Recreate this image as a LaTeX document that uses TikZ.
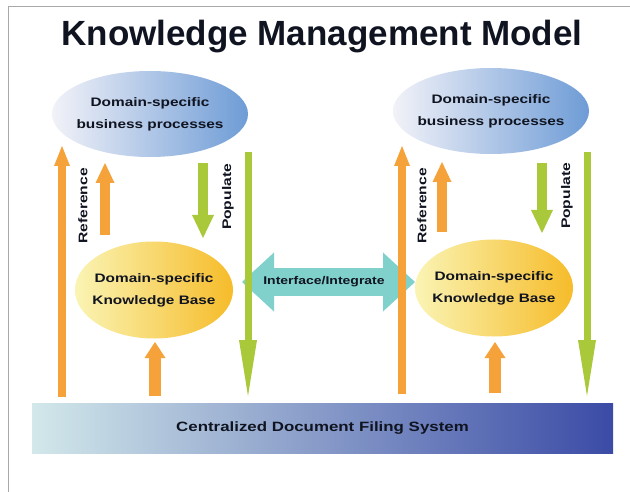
\documentclass[tikz,border=0pt]{standalone}
\usepackage{fontspec}
\setmainfont{Liberation Sans}
\newfontfamily\widefont[FakeStretch=1.25]{Liberation Sans}
\usetikzlibrary{arrows.meta,shapes.geometric}
\definecolor{arrOrange}{HTML}{F5A23A}
\definecolor{arrGreen}{HTML}{A9C83A}
\definecolor{ifaceTeal}{HTML}{80D0CC}
\definecolor{bpLeft}{HTML}{F2F2F8}
\definecolor{bpRight}{HTML}{6E9CD6}
\definecolor{kbLeft}{HTML}{FAF4B4}
\definecolor{kbRight}{HTML}{F6BC2A}
\definecolor{barLeft}{HTML}{D2E8EA}
\definecolor{barMid}{HTML}{A0BEE0}
\definecolor{barRight}{HTML}{3B4BA6}
\definecolor{frameGray}{HTML}{A8A8A8}
\definecolor{txt}{HTML}{101420}
\tikzset{
  lbl/.style={font=\widefont\bfseries\fontsize{12.3}{22}\selectfont, text=txt, align=center, inner sep=0pt},
  bproc/.style={ellipse, minimum width=196pt, minimum height=86pt, inner sep=0pt,
    left color=bpLeft, right color=bpRight},
  kbase/.style={ellipse, minimum width=158pt, minimum height=97pt, inner sep=0pt,
    left color=kbLeft, right color=kbRight},
  vlabel/.style={font=\widefont\bfseries\fontsize{12.5}{14}\selectfont, text=txt, rotate=90},
  tallor/.style={draw=arrOrange, line width=8pt,
    -{Triangle[width=16pt,length=20pt,line width=0pt,fill=arrOrange]}},
  smallor/.style={draw=arrOrange, line width=10pt,
    -{Triangle[width=19pt,length=20pt,line width=0pt,fill=arrOrange]}},
  botor/.style={draw=arrOrange, line width=12pt,
    -{Triangle[width=21pt,length=16pt,line width=0pt,fill=arrOrange]}},
  smallgr/.style={draw=arrGreen, line width=10pt,
    -{Triangle[width=22pt,length=23pt,line width=0pt,fill=arrGreen]}},
  tallgr/.style={draw=arrGreen, line width=7pt,
    -{Triangle[width=18pt,length=56pt,line width=0pt,fill=arrGreen]}},
  ifacearrow/.style={draw=ifaceTeal, line width=28pt,
    {Triangle[width=59pt,length=32pt,line width=0pt,fill=ifaceTeal]}-{Triangle[width=59pt,length=32pt,line width=0pt,fill=ifaceTeal]}}
}
\begin{document}
\begin{tikzpicture}[x=1pt,y=-1pt]
\useasboundingbox (0,0) rectangle (630,492);
\draw[frameGray, line width=1pt] (8,492) -- (8,7) -- (630,7);

\node[font=\bfseries\fontsize{35}{40}\selectfont, text=txt] (title) at (322,37) {Knowledge Management Model};

\node[bproc] (bpL) at (150,114) {};
\node[lbl] (bpLt) at (bpL) {Domain-specific\\business processes};
\node[bproc] (bpR) at (491,111) {};
\node[lbl] (bpRt) at (bpR) {Domain-specific\\business processes};

\node[kbase] (kbL) at (154,290) {};
\node[lbl] (kbLt) at (kbL) {Domain-specific\\Knowledge Base};
\node[kbase] (kbR) at (494,288) {};
\node[lbl] (kbRt) at (kbR) {Domain-specific\\Knowledge Base};

\node[minimum width=581pt, minimum height=50pt, inner sep=0pt,
  left color=barLeft, middle color=barMid, right color=barRight, lbl,
  font=\widefont\bfseries\fontsize{13.5}{16}\selectfont] (bar) at (322.5,428)
  {Centralized Document Filing System};

% interface arrow between knowledge bases
\coordinate (ifL) at (242,282);
\coordinate (ifR) at (415,282);
\draw[ifacearrow] (ifL) -- (ifR);
\node[lbl, font=\widefont\bfseries\fontsize{11.2}{13}\selectfont] (iftext) at (324,282) {Interface/Integrate};

% left column
\coordinate (aLb) at (62,397);  \coordinate (aLt) at (62,146);
\coordinate (bLb) at (105,235); \coordinate (bLt) at (105,163);
\coordinate (cLt) at (203,163); \coordinate (cLb) at (203,238);
\coordinate (dLt) at (248,152); \coordinate (dLb) at (248,396);
\coordinate (eLb) at (155,396); \coordinate (eLt) at (155,342);
\draw[tallor] (aLb) -- (aLt);
\draw[smallor] (bLb) -- (bLt);
\draw[smallgr] (cLt) -- (cLb);
\draw[tallgr] (dLt) -- (dLb);
\draw[botor] (eLb) -- (eLt);
\node[vlabel] (refL) at (83,206) {Reference};
\node[vlabel] (popL) at (228,197) {Populate};

% right column
\coordinate (aRb) at (402,394); \coordinate (aRt) at (402,146);
\coordinate (bRb) at (442,232); \coordinate (bRt) at (442,162);
\coordinate (cRt) at (542,163); \coordinate (cRb) at (542,233);
\coordinate (dRt) at (587,152); \coordinate (dRb) at (587,396);
\coordinate (eRb) at (495,393); \coordinate (eRt) at (495,342);
\draw[tallor] (aRb) -- (aRt);
\draw[smallor] (bRb) -- (bRt);
\draw[smallgr] (cRt) -- (cRb);
\draw[tallgr] (dRt) -- (dRb);
\draw[botor] (eRb) -- (eRt);
\node[vlabel] (refR) at (422,206) {Reference};
\node[vlabel] (popR) at (567,196) {Populate};
\end{tikzpicture}
\end{document}
